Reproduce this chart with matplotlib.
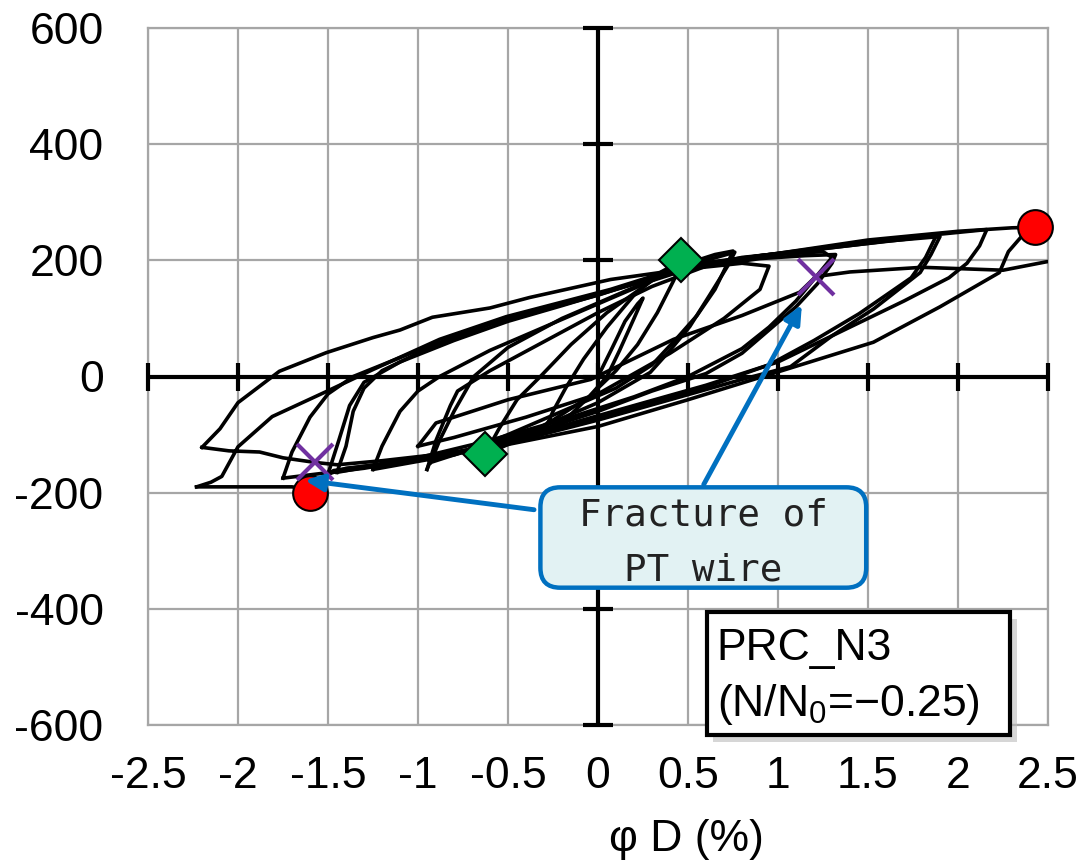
import numpy as np
import matplotlib.pyplot as plt
from matplotlib.patches import FancyBboxPatch, Rectangle

plt.rcParams['font.family'] = ['Liberation Sans', 'DejaVu Sans']
plt.rcParams['mathtext.default'] = 'regular'

# Hysteresis cycles (phi D in %, load)
cyc1_x = [0.0, 0.08, 0.15, 0.22, 0.25, 0.2, 0.12, 0.05, -0.05, -0.15, -0.25, -0.3]
cyc1_y = [0, 50, 95, 125, 135, 100, 45, 0, -35, -65, -85, -95]

cyc2_x = [-0.3, -0.25, -0.18, -0.08, 0.05, 0.2, 0.35, 0.47, 0.42, 0.33, 0.22, 0.1, -0.05, -0.25, -0.45, -0.63]
cyc2_y = [-95, -60, -20, 30, 85, 140, 180, 200, 165, 110, 55, 10, -35, -75, -110, -135]

cyc3_x = [-0.63, -0.55, -0.45, -0.32, -0.15, 0.05, 0.3, 0.5, 0.65, 0.75, 0.72, 0.65, 0.55, 0.45, 0.3, 0.1, -0.2, -0.5, -0.75, -0.93]
cyc3_y = [-135, -90, -40, 0, 55, 110, 165, 195, 210, 216, 195, 150, 105, 70, 20, -20, -60, -100, -130, -148]

cyc4_x = [-0.93, -0.88, -0.8, -0.69, -0.5, -0.2, 0.1, 0.4, 0.6, 0.76, 0.72, 0.62, 0.51, 0.4, 0.29, 0.0, -0.3, -0.6, -0.93, -0.95]
cyc4_y = [-148, -110, -60, 0, 50, 100, 140, 180, 200, 214, 190, 140, 86, 45, 7, -45, -85, -115, -145, -160]

cyc5_x = [-0.95, -0.9, -0.82, -0.78, -0.6, -0.3, 0.0, 0.3, 0.6, 0.9, 1.15, 1.32, 1.3, 1.22, 1.1, 0.95, 0.8, 0.6, 0.3, 0.0, -0.4, -0.8, -1.25]
cyc5_y = [-160, -110, -50, -25, 10, 60, 110, 155, 190, 203, 208, 210, 195, 160, 120, 80, 40, 5, -25, -60, -100, -135, -160]

cyc6_x = [-1.25, -1.2, -1.1, -1.0, -0.88, -0.6, -0.3, 0.0, 0.3, 0.6, 1.0, 1.25, 1.3, 1.22, 1.1, 0.95, 0.8, 0.5, 0.2, -0.2, -0.6, -1.0, -1.45]
cyc6_y = [-160, -120, -60, -25, 0, 45, 85, 125, 165, 195, 210, 215, 205, 175, 130, 85, 48, 0, -35, -75, -110, -140, -165]

cyc7_x = [-1.45, -1.4, -1.36, -1.3, -1.2, -0.9, -0.6, -0.3, 0.0, 0.4, 0.8, 1.2, 1.6, 1.9, 1.85, 1.79, 1.65, 1.53, 1.3, 1.07, 0.8, 0.4, 0.0, -0.5, -1.0, -1.4, -1.5]
cyc7_y = [-165, -120, -60, -20, 10, 55, 90, 115, 140, 180, 205, 218, 233, 241, 210, 179, 145, 116, 70, 17, -5, -40, -75, -115, -145, -158, -168]

cyc7b_x = [-1.5, -1.44, -1.38, -1.3, -1.1, -0.8, -0.5, -0.2, 0.1, 0.5, 0.9, 1.3, 1.7, 1.88, 1.82, 1.74, 1.6, 1.45, 1.2, 0.95, 0.6, 0.2, -0.3, -0.8, -1.3, -1.75]
cyc7b_y = [-168, -110, -50, -10, 25, 62, 95, 122, 150, 186, 208, 222, 236, 243, 205, 170, 140, 108, 62, 20, -18, -55, -95, -132, -158, -175]

cyc8_x = [-1.75, -1.7, -1.6, -1.5, -1.36, -1.0, -0.6, -0.2, 0.2, 0.6, 1.0, 1.5, 1.9, 2.16, 2.12, 2.05, 1.95, 1.7, 1.4, 1.0, 0.6, 0.2, -0.2, -0.7, -1.2, -1.47, -1.6, -1.7, -2.0, -2.23]
cyc8_y = [-175, -130, -70, -30, 0, 45, 90, 125, 160, 195, 212, 232, 245, 253, 225, 195, 170, 130, 85, 25, -15, -50, -85, -125, -150, -162, -195, -190, -190, -190]

cyc9_x = [-2.23, -2.15, -2.09, -2.0, -1.81, -1.51, -1.25, -0.88, -0.51, 0.07, 0.5, 1.0, 1.5, 2.0, 2.3, 2.43, 2.35, 2.28, 2.23, 1.9, 1.53, 0.99, 0.5, 0.0, -0.63, -1.2, -1.45, -1.57, -1.75, -1.88, -2.05, -2.2]
cyc9_y = [-190, -182, -172, -121, -69, -26, 12, 64, 103, 150, 192, 212, 235, 250, 256, 257, 240, 215, 179, 120, 59, 7, -40, -86, -125, -145, -152, -148, -140, -130, -128, -122]

cyc10_x = [-2.2, -2.1, -2.0, -1.77, -1.51, -1.25, -1.1, -0.92, -0.6, -0.38, 0.07, 0.46, 0.8, 0.95, 0.9, 0.7, 0.4, 0.0, -0.4, -0.8, -1.0]
cyc10_y = [-122, -90, -45, 9, 41, 67, 80, 102, 118, 136, 167, 184, 195, 190, 150, 100, 40, -30, -70, -105, -120]

last_x = [-1.0, -0.9, -0.5, -0.04, 0.42, 0.8, 1.12, 1.21, 1.4, 1.8, 2.25, 2.5]
last_y = [-120, -80, -40, -5, 64, 105, 145, 172, 180, 188, 183, 198]

cycles = [(cyc1_x, cyc1_y), (cyc2_x, cyc2_y), (cyc3_x, cyc3_y), (cyc4_x, cyc4_y),
          (cyc5_x, cyc5_y), (cyc6_x, cyc6_y), (cyc7_x, cyc7_y), (cyc7b_x, cyc7b_y),
          (cyc8_x, cyc8_y), (cyc9_x, cyc9_y), (cyc10_x, cyc10_y), (last_x, last_y)]

# marked points
max_x = [2.43, -1.6]
max_y = [257, -200]
yield_x = [0.46, -0.63]
yield_y = [200, -134]
frac_x = [1.21, -1.57]
frac_y = [172, -148]

xticks = [-2.5, -2, -1.5, -1, -0.5, 0, 0.5, 1, 1.5, 2, 2.5]
xtick_labels = ['-2.5', '-2', '-1.5', '-1', '-0.5', '0', '0.5', '1', '1.5', '2', '2.5']
yticks = [-600, -400, -200, 0, 200, 400, 600]
ytick_labels = ['-600', '-400', '-200', '0', '200', '400', '600']

fig = plt.figure(figsize=(10.81, 8.68), dpi=100)
ax = fig.add_axes([148 / 1081, 1 - 725 / 868, 900 / 1081, 697 / 868])
ax.set_xlim(-2.5, 2.5)
ax.set_ylim(-600, 600)

grid_c = '#A6A6A6'
ax.set_xticks(xticks)
ax.set_xticklabels(xtick_labels)
ax.set_yticks(yticks)
ax.set_yticklabels(ytick_labels)
ax.tick_params(length=0, labelsize=32)
ax.tick_params(axis='y', pad=32)
ax.tick_params(axis='x', pad=22)
ax.grid(True, color=grid_c, lw=1.6)
for s in ax.spines.values():
    s.set_color(grid_c)
    s.set_linewidth(1.6)

# axes through origin with tick marks
ax.axhline(0, color='k', lw=3, zorder=3)
ax.axvline(0, color='k', lw=3, zorder=3)
ax.plot(xticks, [0] * len(xticks), ls='none', marker='|', ms=20, mew=3, color='k', clip_on=False, zorder=3)
ax.plot([0] * len(yticks), yticks, ls='none', marker='_', ms=21, mew=3, color='k', clip_on=False, zorder=3)

for cx, cy in cycles:
    ax.plot(cx, cy, color='k', lw=2.6, solid_joinstyle='round', zorder=4)

ax.plot(max_x, max_y, ls='none', marker='o', ms=25, mfc='#FF0000', mec='k', mew=1.5, zorder=5, clip_on=False)
ax.plot(yield_x, yield_y, ls='none', marker='D', ms=22, mfc='#00B050', mec='k', mew=1.5, zorder=5)
ax.plot(frac_x, frac_y, ls='none', marker='x', ms=26, color='#7030A0', mew=3, zorder=6)

blue = '#0070C0'
# callout
ax.annotate('', xy=(-1.644, -178), xytext=(-0.34, -230),
            arrowprops=dict(arrowstyle='-|>,head_length=1.1,head_width=0.5', color=blue, lw=3.5), zorder=7)
ax.annotate('', xy=(1.14, 128), xytext=(0.58, -190),
            arrowprops=dict(arrowstyle='-|>,head_length=1.1,head_width=0.5', color=blue, lw=3.5), zorder=7)
box = FancyBboxPatch((0.436, 0.197), 0.362, 0.144, boxstyle='round,pad=0,rounding_size=0.022',
                     mutation_aspect=1.29, transform=ax.transAxes, fc='#E2F2F3', ec=blue, lw=3.2,
                     zorder=8, clip_on=False)
ax.add_patch(box)
ax.text(0.617, 0.300, 'Fracture of', transform=ax.transAxes, ha='center', va='center',
        family='DejaVu Sans Mono', fontsize=27, color='#222222', zorder=9)
ax.text(0.617, 0.221, 'PT wire', transform=ax.transAxes, ha='center', va='center',
        family='DejaVu Sans Mono', fontsize=27, color='#222222', zorder=9)

# specimen label
ax.add_patch(Rectangle((0.628, -0.024), 0.337, 0.176, transform=ax.transAxes,
                       fc='#BBBBBB', ec='none', alpha=0.6, zorder=8, clip_on=False))
ax.add_patch(Rectangle((0.621, -0.014), 0.337, 0.176, transform=ax.transAxes,
                       fc='white', ec='k', lw=3, zorder=9, clip_on=False))
ax.text(0.632, 0.110, 'PRC_N3', transform=ax.transAxes, ha='left', va='center',
        fontsize=32, zorder=10)
ax.text(0.632, 0.029, '(N/N$_0$=\u22120.25)', transform=ax.transAxes, ha='left', va='center',
        fontsize=32, zorder=10)

fig.text(686 / 1081, 1 - 840 / 868, '\u03c6 D (%)', ha='center', va='center', fontsize=32)

fig.savefig('out.png', dpi=100)
